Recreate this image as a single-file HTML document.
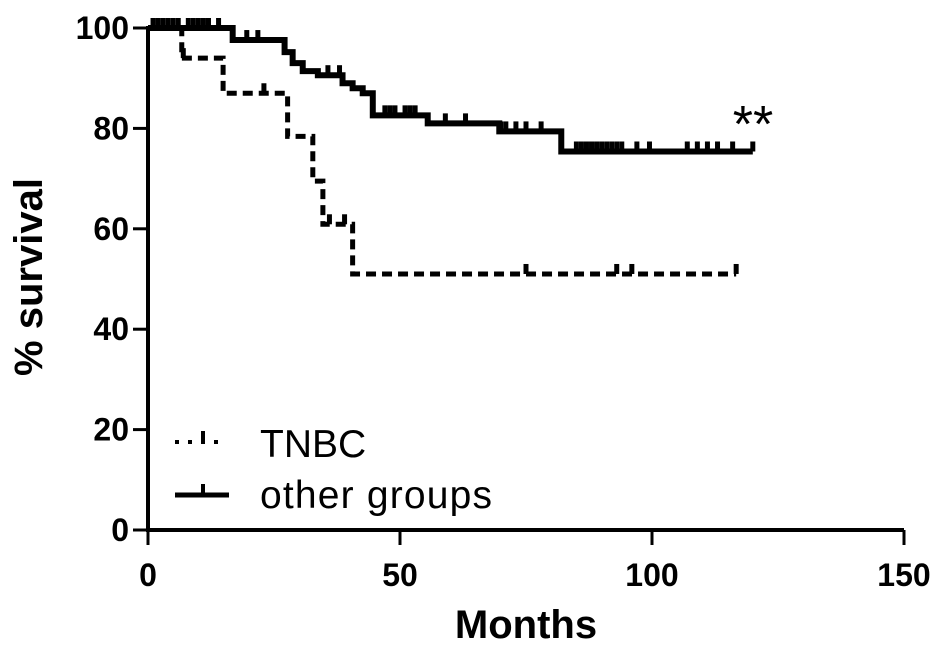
<!DOCTYPE html>
<html><head><meta charset="utf-8"><style>html,body{margin:0;padding:0;background:#fff}svg{display:block}</style></head>
<body>
<svg id="chart" width="945" height="652" viewBox="0 0 945 652" xmlns="http://www.w3.org/2000/svg" font-family="Liberation Sans, Arial, sans-serif">
<g id="axes"></g>
<g id="series"></g>
<text x="753" y="142" font-size="52" text-anchor="middle">**</text>
<g>
<line x1="175" y1="442" x2="222" y2="442" stroke="#000" stroke-width="4" stroke-dasharray="4,9"/>
<line x1="203" y1="431" x2="203" y2="442" stroke="#000" stroke-width="4"/>
<text x="260" y="457" font-size="39">TNBC</text>
<line x1="175" y1="495" x2="229" y2="495" stroke="#000" stroke-width="5"/>
<line x1="203" y1="484" x2="203" y2="495" stroke="#000" stroke-width="4"/>
<text x="260" y="508" font-size="39" textLength="232">other groups</text>
</g>
<text x="526" y="638" font-size="40" font-weight="bold" text-anchor="middle">Months</text>
<text transform="translate(42,277) rotate(-90)" font-size="40" font-weight="bold" text-anchor="middle">% survival</text>
</svg>
<script>
const xTicks=[0,50,100,150];
const yTicks=[0,20,40,60,80,100];
const tnbcTimes=[0,6.7,14.9,27.7,32.7,34.7,40.6,116.7];
const tnbcValues=[100,94,87,78.4,69.5,60.9,51,51];
const tnbcCensor=[7,23,36,39,75,93,96,116.7];
const otherTimes=[0,16.8,27.1,28.7,30.7,33.7,38.6,40.6,42.6,44.6,55.5,69.7,82,120];
const otherValues=[100,97.6,95.2,93,91.4,90.6,89,88,87,82.6,81,79.4,75.4,75.4];
const otherCensor=[1,2,3,4,5,6,8,9,10,11,12,14,19.6,21.8,35.7,38,47,48,49,51,52,53,59,63,70,71,73,75,78,85,86,87,88,89,90,91,92,93,94,97,99.5,107,109,111,113,116,120];
const NS='http://www.w3.org/2000/svg';
const X=m=>148+m*5.04, Y=v=>530-v*5.02;
function mk(t,a,p){const e=document.createElementNS(NS,t);for(const k in a)e.setAttribute(k,a[k]);p.appendChild(e);return e;}
const ax=document.getElementById('axes'), se=document.getElementById('series');
let l=mk('line',{x1:148,y1:Y(100)-2,x2:148,y2:532,stroke:'#000','stroke-width':4},ax);


l=mk('line',{x1:146,y1:530,x2:X(150),y2:530,stroke:'#000','stroke-width':4},ax);


yTicks.forEach(v=>{mk('line',{x1:133,y1:Y(v),x2:148,y2:Y(v),stroke:'#000','stroke-width':3},ax);
 const t=mk('text',{x:129,y:Y(v)+11,'font-size':32,'font-weight':'bold','text-anchor':'end'},ax);t.textContent=v;
 
 });
xTicks.forEach(m=>{mk('line',{x1:X(m),y1:530,x2:X(m),y2:545,stroke:'#000','stroke-width':3},ax);
 const t=mk('text',{x:X(m),y:586,'font-size':32,'font-weight':'bold','text-anchor':'middle'},ax);t.textContent=m;
 
 });
function stepPath(ts,vs){let d='M'+X(ts[0])+','+Y(vs[0]);for(let i=1;i<ts.length;i++){d+=' H'+X(ts[i])+' V'+Y(vs[i]);}return d;}
function valAt(ts,vs,m){let v=vs[0];for(let i=0;i<ts.length;i++)if(ts[i]<=m)v=vs[i];return v;}
let p=mk('path',{d:stepPath(otherTimes,otherValues),fill:'none',stroke:'#000','stroke-width':6},se);


otherCensor.forEach(m=>{const v=valAt(otherTimes,otherValues,m);const c=mk('rect',{x:X(m)-2.5,y:Y(v)-10,width:5,height:10,fill:'#000'},se);
 
 });
p=mk('path',{d:stepPath(tnbcTimes,tnbcValues),fill:'none',stroke:'#000','stroke-width':5,'stroke-dasharray':'10,6'},se);


tnbcCensor.forEach(m=>{const v=valAt(tnbcTimes,tnbcValues,m);const c=mk('rect',{x:X(m)-2.5,y:Y(v)-10,width:5,height:10,fill:'#000'},se);
 
 });
</script>
</body></html>
